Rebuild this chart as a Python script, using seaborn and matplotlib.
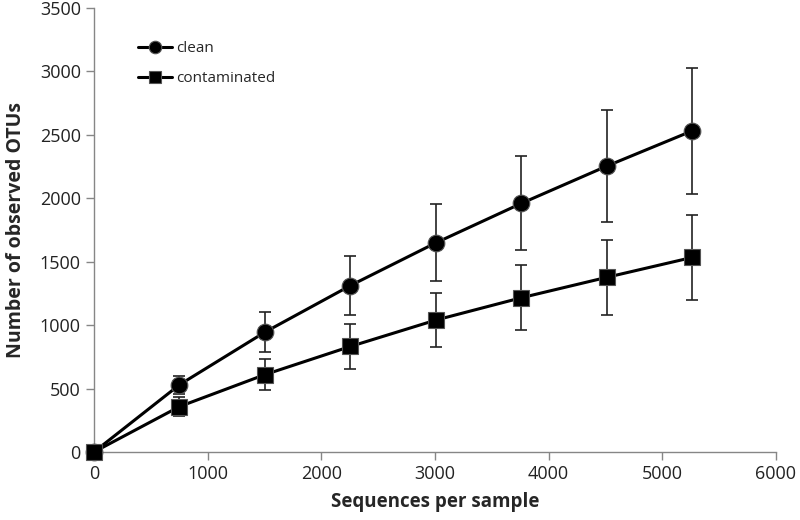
import numpy as np
import pandas as pd
import seaborn as sns
import matplotlib.pyplot as plt

# rarefaction depths (sequences per sample)
depth = [0, 752, 1504, 2256, 3008, 3760, 4512, 5264]

clean_mean = [0, 530, 945, 1312, 1649, 1960, 2254, 2532]
clean_sd = [0, 70, 158, 232, 305, 370, 440, 495]

cont_mean = [0, 358, 610, 832, 1040, 1216, 1377, 1534]
cont_sd = [0, 75, 123, 178, 215, 258, 297, 336]

groups = ['clean', 'contaminated']

df = pd.concat([
    pd.DataFrame({'depth': depth, 'otus': clean_mean, 'sd': clean_sd, 'group': 'clean'}),
    pd.DataFrame({'depth': depth, 'otus': cont_mean, 'sd': cont_sd, 'group': 'contaminated'}),
], ignore_index=True)

sns.set_style('white')
plt.rcParams['font.family'] = ['Open Sans', 'DejaVu Sans']

fig = plt.figure(figsize=(8, 5.2), dpi=100)
ax = fig.add_axes([0.1175, 0.1308, 0.8525, 0.8538])

# error bars first so markers sit on top
for g in groups:
    sub = df[(df['group'] == g) & (df['sd'] > 0)]
    ax.errorbar(sub['depth'], sub['otus'], yerr=sub['sd'], fmt='none',
                ecolor='#222222', elinewidth=1.2, capsize=4, capthick=1.2, zorder=1)

sns.lineplot(data=df, x='depth', y='otus', hue='group', style='group',
             hue_order=groups, style_order=groups,
             palette={'clean': 'black', 'contaminated': 'black'},
             markers={'clean': 'o', 'contaminated': 's'},
             dashes=False, markersize=12, linewidth=2.2,
             markeredgecolor='#555555', markeredgewidth=0.8,
             ax=ax, zorder=3, clip_on=False)

ax.set_xlim(0, 6000)
ax.set_ylim(0, 3500)
ax.set_xticks(np.arange(0, 6001, 1000))
ax.set_yticks(np.arange(0, 3501, 500))
ax.tick_params(axis='both', labelsize=13, colors='#868686', labelcolor='#222222',
               direction='out', length=6, width=1)
ax.tick_params(axis='both', which='both', bottom=True, left=True)

for side in ['top', 'right']:
    ax.spines[side].set_visible(False)
for side in ['left', 'bottom']:
    ax.spines[side].set_color('#868686')
    ax.spines[side].set_linewidth(1)

ax.set_xlabel('Sequences per sample', fontsize=13.5, fontweight='bold', labelpad=6)
ax.set_ylabel('Number of observed OTUs', fontsize=14, fontweight='bold', labelpad=10)

leg = ax.legend(title=None, loc='upper left', bbox_to_anchor=(0.045, 0.957),
                frameon=False, fontsize=11, handlelength=2.2, labelspacing=1.0,
                handletextpad=0.25, markerscale=0.75)

plt.savefig('out.png', dpi=100)
